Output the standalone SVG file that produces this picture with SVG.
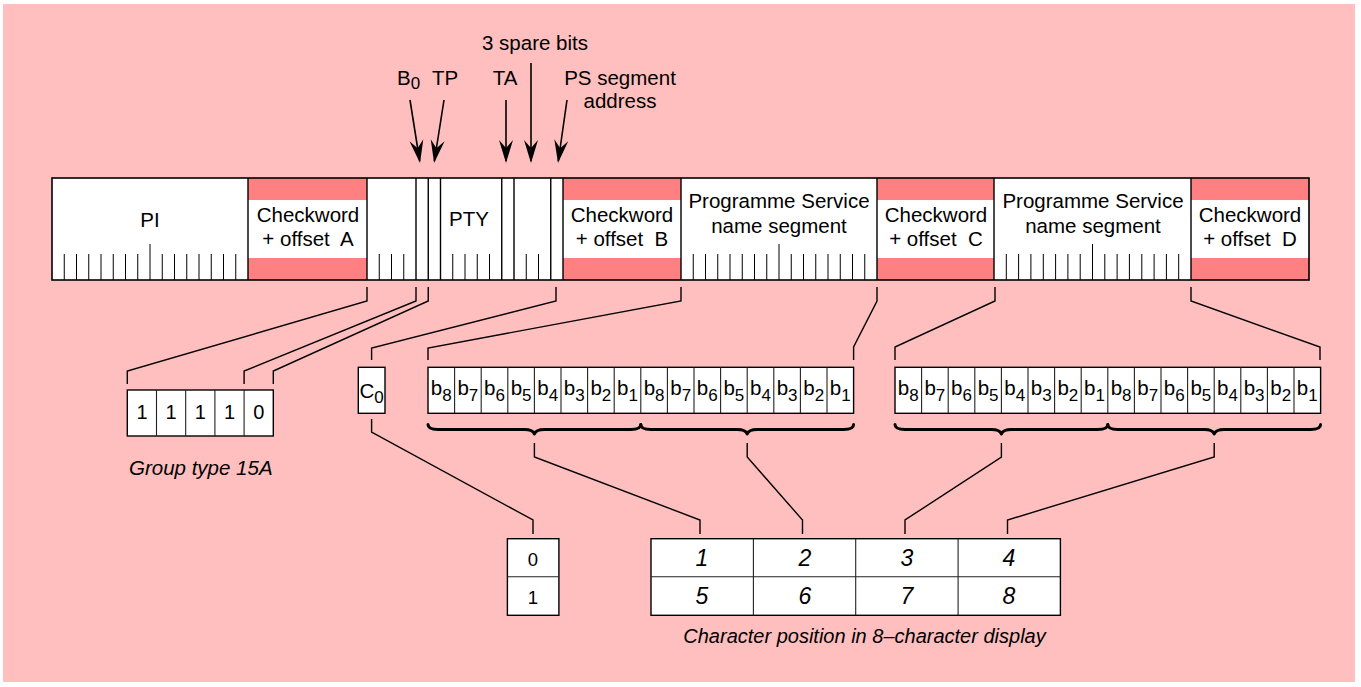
<svg xmlns="http://www.w3.org/2000/svg" width="1361" height="687" viewBox="0 0 1361 687">
<style>
text{font-family:"Liberation Sans",Arial,Helvetica,sans-serif;fill:#000}
.t{font-size:20.5px;text-anchor:middle}
.it{font-style:italic}
.sub{font-size:17px}
.box{fill:#fff;stroke:#000;stroke-width:1.4}
.band{fill:#ff8080}
.ln{fill:none;stroke:#000;stroke-width:1.4}
.tk{fill:none;stroke:#000;stroke-width:1}
.dv{fill:none;stroke:#222;stroke-width:1.1}
.br{fill:none;stroke:#000;stroke-width:3;stroke-linecap:round;stroke-linejoin:round}
.ar{fill:none;stroke:#000;stroke-width:1.6;marker-end:url(#ah)}
.gd{font-size:20px}
.zd{font-size:18.5px}
.td{font-size:23px}
</style>
<defs>
<marker id="ah" viewBox="-25 -8 28 16" refX="-2" refY="0" markerWidth="28" markerHeight="16" orient="auto" markerUnits="userSpaceOnUse">
<path d="M0,0 L-23,-7 L-15,0 L-23,7 Z" fill="#000"/>
</marker>
</defs>
<rect x="0" y="0" width="1361" height="687" fill="#fff"/>
<rect x="3" y="4" width="1352" height="678" fill="#ffbfbf"/>

<g id="bar">
<rect x="52" y="178" width="1257" height="102" fill="#fff"/>
<rect class="band" x="248" y="178" width="119" height="22"/>
<rect class="band" x="248" y="258" width="119" height="22"/>
<rect class="band" x="563" y="178" width="118" height="22"/>
<rect class="band" x="563" y="258" width="118" height="22"/>
<rect class="band" x="877" y="178" width="117" height="22"/>
<rect class="band" x="877" y="258" width="117" height="22"/>
<rect class="band" x="1191" y="178" width="118" height="22"/>
<rect class="band" x="1191" y="258" width="118" height="22"/>
<path class="tk" d="M64.25,254V280M76.5,254V280M88.75,254V280M101,254V280M113.25,254V280M125.5,254V280M137.75,254V280M150,244V280M162.25,254V280M174.5,254V280M186.75,254V280M199,254V280M211.25,254V280M223.5,254V280M235.75,254V280
M379.25,254V280M391.5,254V280M403.75,254V280M452.75,254V280M465,254V280M477.25,254V280M489.5,254V280M526.25,254V280M538.5,254V280
M693.25,254V280M705.5,254V280M717.75,254V280M730,254V280M742.25,254V280M754.5,254V280M766.75,254V280M779,244V280M791.25,254V280M803.5,254V280M815.75,254V280M828,254V280M840.25,254V280M852.5,254V280M864.75,254V280
M1006.3,254V280M1018.6,254V280M1030.9,254V280M1043.3,254V280M1055.6,254V280M1067.9,254V280M1080.2,254V280M1092.5,244V280M1104.8,254V280M1117.1,254V280M1129.4,254V280M1141.8,254V280M1154.1,254V280M1166.4,254V280M1178.7,254V280"/>
<path class="ln" d="M248,178V280M367,178V280M416,178V280M428.25,178V280M440.5,178V280M501.75,178V280M514,178V280M550.75,178V280M563,178V280M681,178V280M877,178V280M994,178V280M1191,178V280"/>
<rect x="52" y="178" width="1257" height="102" fill="none" stroke="#000" stroke-width="1.6"/>
</g>

<g id="bar-labels">
<text class="t" x="150" y="227">PI</text>
<text class="t" x="308" y="222">Checkword</text>
<text class="t" x="308" y="246" xml:space="preserve">+ offset  A</text>
<text class="t" x="469" y="226">PTY</text>
<text class="t" x="622" y="222">Checkword</text>
<text class="t" x="622" y="246" xml:space="preserve">+ offset  B</text>
<text class="t" x="779" y="208">Programme Service</text>
<text class="t" x="779" y="233">name segment</text>
<text class="t" x="936" y="222">Checkword</text>
<text class="t" x="936" y="246" xml:space="preserve">+ offset  C</text>
<text class="t" x="1093" y="208">Programme Service</text>
<text class="t" x="1093" y="233">name segment</text>
<text class="t" x="1250" y="222">Checkword</text>
<text class="t" x="1250" y="246" xml:space="preserve">+ offset  D</text>
</g>

<g id="top-labels">
<text class="t" x="535" y="50">3 spare bits</text>
<text class="t" x="397" y="85" style="text-anchor:start">B<tspan class="sub" dy="4">0</tspan></text>
<text class="t" x="445" y="85">TP</text>
<text class="t" x="505" y="85">TA</text>
<text class="t" x="620" y="85">PS segment</text>
<text class="t" x="620" y="108">address</text>
</g>

<g id="arrows">
<path class="ar" d="M410,100L419.7,161"/>
<path class="ar" d="M444,100L434.4,161"/>
<path class="ar" d="M506,100V161"/>
<path class="ar" d="M531,63V161"/>
<path class="ar" d="M567,100L558.3,161"/>
</g>

<g id="group-type-box">
<rect class="box" x="127.3" y="390" width="146" height="46"/>
<path class="dv" d="M156.5,390V436M185.7,390V436M214.9,390V436M244.1,390V436"/>
<text class="t gd" x="142" y="419">1</text>
<text class="t gd" x="171.1" y="419">1</text>
<text class="t gd" x="200.3" y="419">1</text>
<text class="t gd" x="229.5" y="419">1</text>
<text class="t gd" x="258.7" y="419">0</text>
<text class="t it" x="129" y="475" style="text-anchor:start">Group type 15A</text>
</g>

<g id="c0-box">
<rect class="box" x="358.3" y="367.3" width="26.7" height="46"/>
<text class="t" x="371.6" y="398">C<tspan class="sub" dy="5">0</tspan></text>
</g>

<g id="bits-1">
<rect class="box" x="428" y="367.3" width="425.6" height="46"/>
<path class="dv" d="M454.6,367.3V413.3M481.2,367.3V413.3M507.8,367.3V413.3M534.4,367.3V413.3M561,367.3V413.3M587.6,367.3V413.3M614.2,367.3V413.3M640.8,367.3V413.3M667.4,367.3V413.3M694,367.3V413.3M720.6,367.3V413.3M747.2,367.3V413.3M773.8,367.3V413.3M800.4,367.3V413.3M827,367.3V413.3"/>
<text class="t" x="441.3" y="395">b<tspan class="sub" dy="5.5">8</tspan></text>
<text class="t" x="467.9" y="395">b<tspan class="sub" dy="5.5">7</tspan></text>
<text class="t" x="494.5" y="395">b<tspan class="sub" dy="5.5">6</tspan></text>
<text class="t" x="521.1" y="395">b<tspan class="sub" dy="5.5">5</tspan></text>
<text class="t" x="547.7" y="395">b<tspan class="sub" dy="5.5">4</tspan></text>
<text class="t" x="574.3" y="395">b<tspan class="sub" dy="5.5">3</tspan></text>
<text class="t" x="600.9" y="395">b<tspan class="sub" dy="5.5">2</tspan></text>
<text class="t" x="627.5" y="395">b<tspan class="sub" dy="5.5">1</tspan></text>
<text class="t" x="654.1" y="395">b<tspan class="sub" dy="5.5">8</tspan></text>
<text class="t" x="680.7" y="395">b<tspan class="sub" dy="5.5">7</tspan></text>
<text class="t" x="707.3" y="395">b<tspan class="sub" dy="5.5">6</tspan></text>
<text class="t" x="733.9" y="395">b<tspan class="sub" dy="5.5">5</tspan></text>
<text class="t" x="760.5" y="395">b<tspan class="sub" dy="5.5">4</tspan></text>
<text class="t" x="787.1" y="395">b<tspan class="sub" dy="5.5">3</tspan></text>
<text class="t" x="813.7" y="395">b<tspan class="sub" dy="5.5">2</tspan></text>
<text class="t" x="840.3" y="395">b<tspan class="sub" dy="5.5">1</tspan></text>
</g>

<g id="bits-2">
<rect class="box" x="895" y="367.3" width="425.6" height="46"/>
<path class="dv" d="M921.6,367.3V413.3M948.2,367.3V413.3M974.8,367.3V413.3M1001.4,367.3V413.3M1028,367.3V413.3M1054.6,367.3V413.3M1081.2,367.3V413.3M1107.8,367.3V413.3M1134.4,367.3V413.3M1161,367.3V413.3M1187.6,367.3V413.3M1214.2,367.3V413.3M1240.8,367.3V413.3M1267.4,367.3V413.3M1294,367.3V413.3"/>
<text class="t" x="908.3" y="395">b<tspan class="sub" dy="5.5">8</tspan></text>
<text class="t" x="934.9" y="395">b<tspan class="sub" dy="5.5">7</tspan></text>
<text class="t" x="961.5" y="395">b<tspan class="sub" dy="5.5">6</tspan></text>
<text class="t" x="988.1" y="395">b<tspan class="sub" dy="5.5">5</tspan></text>
<text class="t" x="1014.7" y="395">b<tspan class="sub" dy="5.5">4</tspan></text>
<text class="t" x="1041.3" y="395">b<tspan class="sub" dy="5.5">3</tspan></text>
<text class="t" x="1067.9" y="395">b<tspan class="sub" dy="5.5">2</tspan></text>
<text class="t" x="1094.5" y="395">b<tspan class="sub" dy="5.5">1</tspan></text>
<text class="t" x="1121.1" y="395">b<tspan class="sub" dy="5.5">8</tspan></text>
<text class="t" x="1147.7" y="395">b<tspan class="sub" dy="5.5">7</tspan></text>
<text class="t" x="1174.3" y="395">b<tspan class="sub" dy="5.5">6</tspan></text>
<text class="t" x="1200.9" y="395">b<tspan class="sub" dy="5.5">5</tspan></text>
<text class="t" x="1227.5" y="395">b<tspan class="sub" dy="5.5">4</tspan></text>
<text class="t" x="1254.1" y="395">b<tspan class="sub" dy="5.5">3</tspan></text>
<text class="t" x="1280.7" y="395">b<tspan class="sub" dy="5.5">2</tspan></text>
<text class="t" x="1307.3" y="395">b<tspan class="sub" dy="5.5">1</tspan></text>
</g>

<g id="braces">
<path class="br" d="M428,424.5C428,428 431,429.5 438,429.5L524.4,429.5C530.4,429.5 533.4,431 534.4,434C535.4,431 538.4,429.5 544.4,429.5L630.8,429.5C637.8,429.5 640.8,428 640.8,424.5"/>
<path class="br" d="M640.8,424.5C640.8,428 643.8,429.5 650.8,429.5L737.2,429.5C743.2,429.5 746.2,431 747.2,434C748.2,431 751.2,429.5 757.2,429.5L843.6,429.5C850.6,429.5 853.6,428 853.6,424.5"/>
<path class="br" d="M895,424.5C895,428 898,429.5 905,429.5L991.4,429.5C997.4,429.5 1000.4,431 1001.4,434C1002.4,431 1005.4,429.5 1011.4,429.5L1097.8,429.5C1104.8,429.5 1107.8,428 1107.8,424.5"/>
<path class="br" d="M1107.8,424.5C1107.8,428 1110.8,429.5 1117.8,429.5L1204.2,429.5C1210.2,429.5 1213.2,431 1214.2,434C1215.2,431 1218.2,429.5 1224.2,429.5L1310.6,429.5C1317.6,429.5 1320.6,428 1320.6,424.5"/>
</g>

<g id="zero-one-box">
<rect class="box" x="507.4" y="538.7" width="51.5" height="76.6"/>
<path class="dv" d="M507.4,576.7H558.9"/>
<text class="t zd" x="533" y="566">0</text>
<text class="t zd" x="533" y="604">1</text>
</g>

<g id="display-table">
<rect class="box" x="651" y="538.7" width="409.4" height="76.6"/>
<path class="dv" d="M651,576.7H1060.4M753.4,538.7V615.3M855.7,538.7V615.3M958.1,538.7V615.3"/>
<text class="t it td" x="702" y="566">1</text>
<text class="t it td" x="805" y="566">2</text>
<text class="t it td" x="907" y="566">3</text>
<text class="t it td" x="1009" y="566">4</text>
<text class="t it td" x="702" y="604">5</text>
<text class="t it td" x="805" y="604">6</text>
<text class="t it td" x="907" y="604">7</text>
<text class="t it td" x="1009" y="604">8</text>
<text class="t it" style="font-size:20px" x="864.5" y="643">Character position in 8–character display</text>
</g>

<g id="connectors">
<path class="ln" d="M367,287V301L127.3,371V384"/>
<path class="ln" d="M416,287V301L244.1,371V384"/>
<path class="ln" d="M428.25,287V301L273.3,371V384"/>
<path class="ln" d="M556,287V301L371.6,348V360"/>
<path class="ln" d="M681,287V301L428,348V360"/>
<path class="ln" d="M877,287V301L853.6,347V360"/>
<path class="ln" d="M995,287V301L895,347V360"/>
<path class="ln" d="M1191,287V301L1320,347V360"/>
<path class="ln" d="M371.6,419V432L533,520V534"/>
<path class="ln" d="M534.4,443V457L700,520V534"/>
<path class="ln" d="M747.2,443V457L802.5,520V534"/>
<path class="ln" d="M1001.4,443V457L905,520V534"/>
<path class="ln" d="M1214.2,443V457L1007.5,520V534"/>
</g>
</svg>
